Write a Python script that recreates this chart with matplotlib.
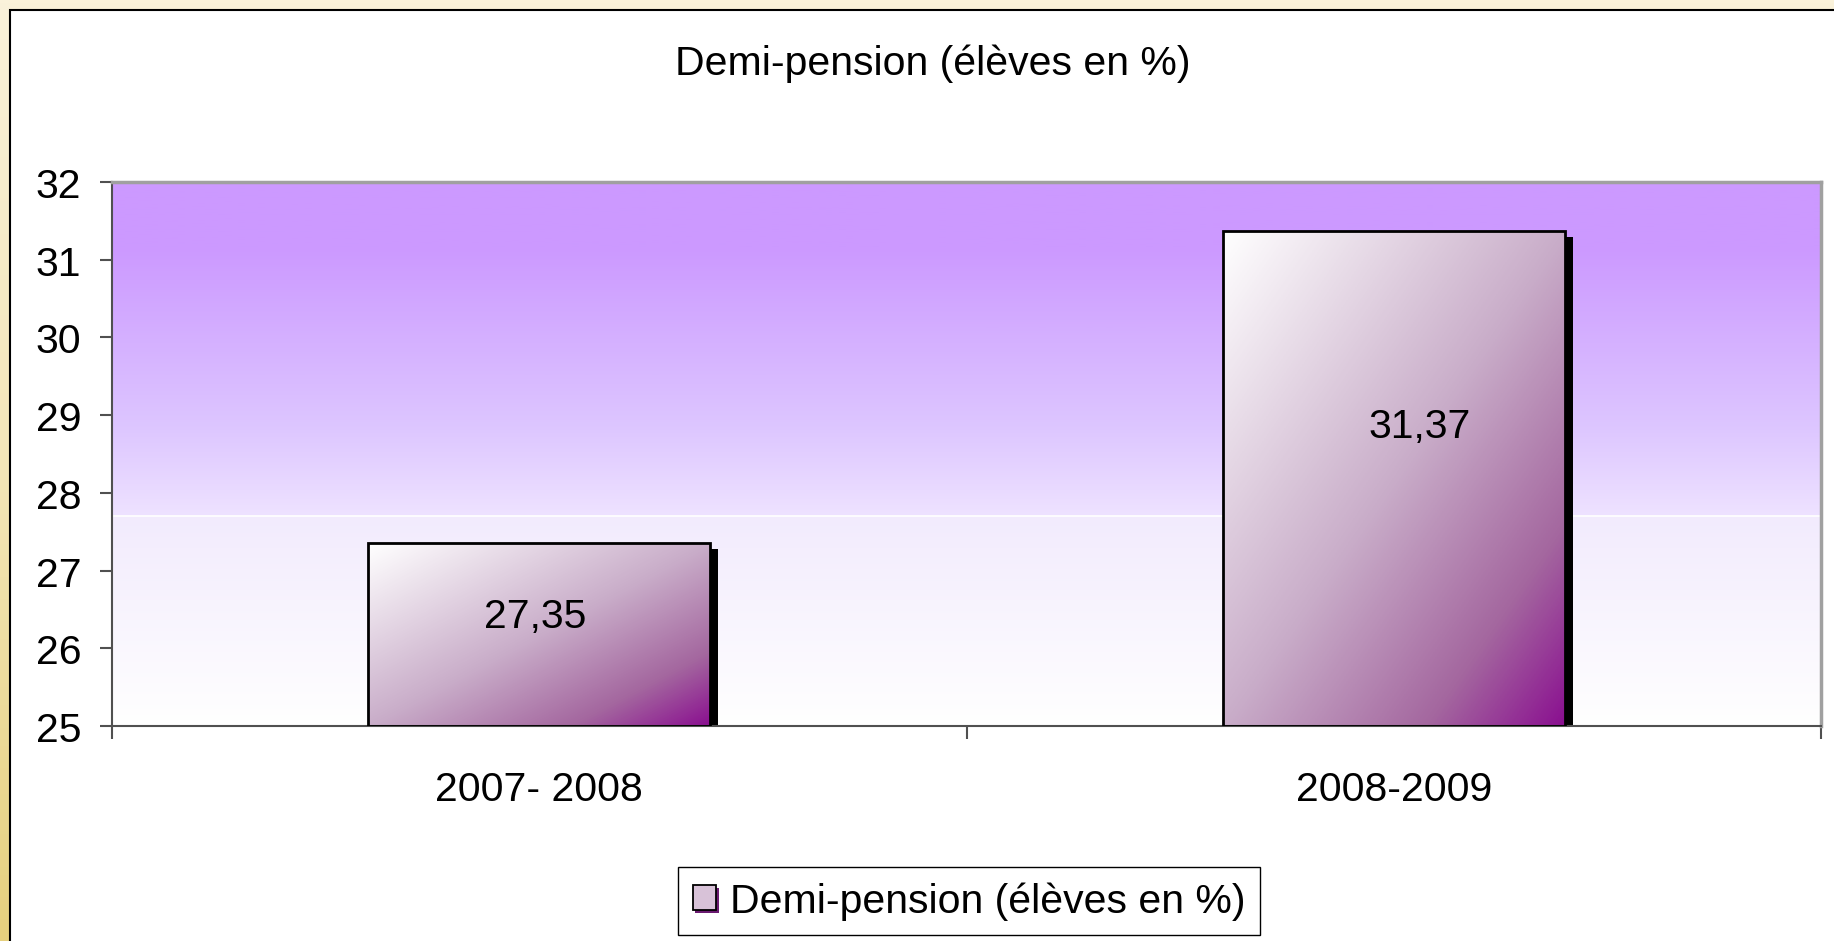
#!/usr/bin/env python3
import numpy as np
import matplotlib
matplotlib.use('Agg')
import matplotlib.pyplot as plt
import matplotlib.transforms as mtransforms
from matplotlib.colors import LinearSegmentedColormap
from matplotlib.patches import Rectangle
from matplotlib.legend_handler import HandlerBase

plt.rcParams['font.family'] = ['Liberation Sans', 'DejaVu Sans']

# données
title = "Demi-pension (élèves en %)"
categories = ["2007- 2008", "2008-2009"]
values = [27.35, 31.37]
value_labels = ["27,35", "31,37"]
y_ticks = [25, 26, 27, 28, 29, 30, 31, 32]
y_min, y_max = 25, 32

FS = 29.5
# décalage horizontal des étiquettes (pixels), comme dans l'original
label_dx = [-4, 26]


class GradientBoxHandler(HandlerBase):
    def create_artists(self, legend, orig_handle, xdescent, ydescent,
                       width, height, fontsize, trans):
        shadow = Rectangle((-xdescent + 2, -ydescent - 2), width, height,
                           facecolor='#6A1A70', edgecolor='none', transform=trans)
        box = Rectangle((-xdescent, -ydescent), width, height,
                        facecolor='#D8C2D8', edgecolor='black', lw=1.3,
                        transform=trans)
        return [shadow, box]


fig = plt.figure(figsize=(18.34, 9.4199), dpi=100)

# fond jaune crème + panneau blanc
bg = fig.add_axes([0, 0, 1, 1], zorder=-10)
bg.axis('off')
cream = LinearSegmentedColormap.from_list('cream', ['#FAF2DA', '#F3E6B8', '#E6D07E'])
bg.imshow(np.linspace(0, 1, 256).reshape(-1, 1), cmap=cream, aspect='auto',
          extent=[0, 1, 0, 1], transform=bg.transAxes)
bg.add_patch(Rectangle((10 / 1834, -0.05), 1.1, 1.05 - 11 / 942,
                       facecolor='white', edgecolor='black', lw=1.5,
                       transform=bg.transAxes))
bg.set_xlim(0, 1)
bg.set_ylim(0, 1)

ax = fig.add_axes([112 / 1834, 1 - 727 / 942, (1821 - 112) / 1834, (727 - 183) / 942])
ax.set_facecolor('none')

# dégradé de la zone de traçage
plot_cmap = LinearSegmentedColormap.from_list(
    'plotbg', [(0.0, '#CC99FF'), (0.12, '#CC99FF'), (0.45, '#DDC6FF'),
               (0.613, '#EEE2FF'), (0.615, '#F2EBFD'), (1.0, '#FFFFFF')])
ax.imshow(np.linspace(0, 1, 512).reshape(-1, 1), cmap=plot_cmap, aspect='auto',
          extent=[0, 1, 0, 1], transform=ax.transAxes, zorder=0)
ax.axhline(y_min + (1 - 0.614) * (y_max - y_min), color='white', lw=1.2, zorder=0.5)

x = np.arange(len(categories))
bar_w = 0.4

# ombre des barres
shadow_tr = mtransforms.offset_copy(ax.transData, fig=fig, x=8, y=-6, units='dots')
ax.bar(x, np.array(values) - y_min, width=bar_w, bottom=y_min, color='black',
       transform=shadow_tr, zorder=1)

bars = ax.bar(x, np.array(values) - y_min, width=bar_w, bottom=y_min,
              facecolor='none', edgecolor='black', lw=2, zorder=3,
              label=title)

bar_cmap = LinearSegmentedColormap.from_list(
    'bar', [(0.0, '#FFFFFF'), (0.5, '#C9ADC9'), (0.8, '#A4679F'), (1.0, '#8A1090')])
ny, nx = 200, 200
gi, gj = np.mgrid[0:ny, 0:nx]
grad = (gj / (nx - 1) + gi / (ny - 1)) / 2
for b in bars:
    bx, by, bw, bh = b.get_x(), b.get_y(), b.get_width(), b.get_height()
    im = ax.imshow(grad, cmap=bar_cmap, aspect='auto', vmin=0, vmax=1,
                   extent=[bx, bx + bw, by, by + bh], zorder=2)
    im.set_clip_path(b)

for xi, v, lab, dx in zip(x, values, value_labels, label_dx):
    tr = mtransforms.offset_copy(ax.transData, fig=fig, x=dx, y=0, units='dots')
    ax.text(xi, v - 0.395 * (v - y_min), lab, ha='center', va='center',
            fontsize=FS, zorder=4, transform=tr)

ax.set_xlim(-0.5, len(categories) - 0.5)
ax.set_ylim(y_min, y_max)
ax.set_yticks(y_ticks)
ax.set_xticks(x)
ax.set_xticklabels(categories)
ax.set_xticks(np.arange(-0.5, len(categories)), minor=True)
ax.tick_params(axis='x', which='major', length=0, pad=32, labelsize=FS)
ax.tick_params(axis='x', which='minor', length=9, width=1.5, color='#505050', direction='out')
ax.tick_params(axis='y', length=9, width=1.5, color='#505050', direction='out',
               pad=13, labelsize=FS)

for s in ['left', 'bottom']:
    ax.spines[s].set_color('#505050')
    ax.spines[s].set_linewidth(1.5)
for s in ['top', 'right']:
    ax.spines[s].set_color('#A0A0A0')
    ax.spines[s].set_linewidth(2.5)

fig.text(933 / 1834, 1 - 64 / 942, title, ha='center', va='center', fontsize=FS)

leg = fig.legend(handles=[bars], labels=[title], loc='center',
                 bbox_to_anchor=(969 / 1834, 1 - 902 / 942),
                 handler_map={type(bars): GradientBoxHandler()},
                 fontsize=FS, frameon=True, fancybox=False, framealpha=1,
                 edgecolor='black', handlelength=0.57, handleheight=0.57,
                 handletextpad=0.34, borderpad=0.36)
leg.get_frame().set_linewidth(1.0)

fig.savefig('out.png', dpi=100)
